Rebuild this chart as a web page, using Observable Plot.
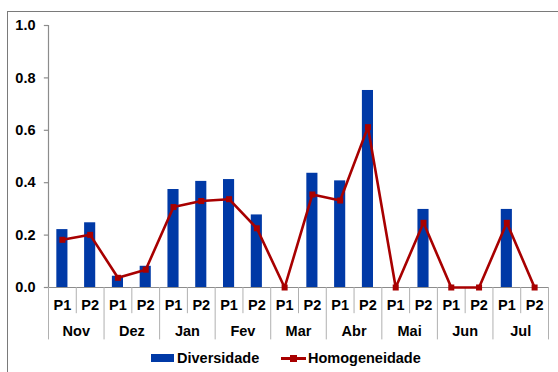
<!DOCTYPE html>
<html>
<head>
<meta charset="utf-8">
<script src="https://cdn.jsdelivr.net/npm/d3@7"></script>
<script src="https://cdn.jsdelivr.net/npm/@observablehq/plot@0.6"></script>
<style>
  html, body { margin: 0; padding: 0; background: #fff; }
  #wrap { position: relative; width: 558px; height: 372px; overflow: hidden;
          font-family: "Liberation Sans", Arial, sans-serif; }
  #frame { position: absolute; left: 7px; top: 11px; width: 600px; height: 400px;
           border-top: 1.5px solid #7a7a7a; border-left: 1.5px solid #7a7a7a; }
  #chart { position: absolute; left: 0; top: 0; }
  #legend { position: absolute; left: 0; top: 346px; width: 558px; height: 26px;
            font-weight: bold; font-size: 14.5px; color: #000; }
  .item { position: absolute; top: 3px; display: flex; align-items: center; height: 18px; }
  .swatch-bar { width: 23px; height: 8px; background: #0039A6; margin-right: 3px; }
  .swatch-line { position: relative; width: 25px; height: 3px; background: #A80000; margin-right: 2px; }
  .swatch-line::after { content: ""; position: absolute; left: 9px; top: -2px; width: 7px; height: 7px; background: #A80000; }
</style>
</head>
<body>
<div id="wrap">
  <div id="frame"></div>
  <div id="chart"></div>
  <div id="legend">
    <div class="item" style="left:151px"><span class="swatch-bar"></span>Diversidade</div>
    <div class="item" style="left:281px"><span class="swatch-line"></span>Homogeneidade</div>
  </div>
</div>
<script>
// Sampling months and the two periods within each
const months = ["Nov", "Dez", "Jan", "Fev", "Mar", "Abr", "Mai", "Jun", "Jul"];
const periods = ["P1", "P2"];

// One value per period, in month order
const diversidade = [0.221, 0.247, 0.043, 0.081, 0.374, 0.405, 0.412, 0.277, 0.0,
                     0.436, 0.407, 0.752, 0.0, 0.298, 0.0, 0.0, 0.298, 0.0];
const homogeneidade = [0.182, 0.201, 0.037, 0.068, 0.307, 0.330, 0.337, 0.226, 0.0,
                       0.355, 0.332, 0.612, 0.0, 0.247, 0.0, 0.0, 0.247, 0.0];

const yTicks = [0, 0.2, 0.4, 0.6, 0.8, 1.0];

// Slot table: each period occupies one unit on the x scale
const slots = [];
months.forEach((m, mi) => periods.forEach((p, pi) => {
  const i = mi * periods.length + pi;
  slots.push({ i, month: m, period: p, div: diversidade[i], hom: homogeneidade[i] });
}));
const nSlots = slots.length;
const boundaries = d3.range(nSlots + 1);
const monthCenters = months.map((m, mi) => ({ month: m, c: mi * periods.length + periods.length / 2 }));

const red = "#A80000";
const blue = "#0039A6";
const grey = "#8c8c8c";
const tickLen = 0.15; // outward tick length, in slot units

const chart = Plot.plot({
  width: 558,
  height: 346,
  marginLeft: 48,
  marginRight: 10,
  marginTop: 25,
  marginBottom: 59,
  style: { fontFamily: "'Liberation Sans', Arial, sans-serif", fontSize: "14.5px", fontWeight: "bold", color: "#000", background: "transparent", overflow: "visible" },
  x: { type: "linear", domain: [0, nSlots], axis: null },
  y: { domain: [0, 1], axis: null },
  marks: [
    // bars
    Plot.rectY(slots, { x1: d => d.i + 0.3, x2: d => d.i + 0.7, y1: 0, y2: "div", fill: blue }),
    // value axis
    Plot.ruleX([0], { y1: 0, y2: 1, stroke: grey, strokeWidth: 1.2 }),
    Plot.ruleY(yTicks, { x1: -tickLen, x2: 0, stroke: grey, strokeWidth: 1.2 }),
    Plot.text(yTicks, { x: 0, y: d => d, text: d => d.toFixed(1), textAnchor: "end", dx: -13, fill: "#000" }),
    // category axis: baseline and separators
    Plot.ruleY([0], { x1: 0, x2: nSlots, stroke: grey, strokeWidth: 1.2 }),
    Plot.ruleX(boundaries, { x: d => d, y1: 0, y2: d => (d % periods.length === 0 ? -0.2 : -0.1), stroke: "#b0b0b0", strokeWidth: 1 }),
    Plot.text(slots, { x: d => d.i + 0.5, y: 0, text: "period", dy: 18, fill: "#000" }),
    Plot.text(monthCenters, { x: "c", y: 0, text: "month", dy: 44, fill: "#000" }),
    // line with square markers
    Plot.line(slots, { x: d => d.i + 0.5, y: "hom", stroke: red, strokeWidth: 2.6 }),
    Plot.dot(slots, { x: d => d.i + 0.5, y: "hom", symbol: "square", r: 3.4, fill: red, stroke: "none" })
  ]
});
document.getElementById("chart").appendChild(chart);
</script>
</body>
</html>
